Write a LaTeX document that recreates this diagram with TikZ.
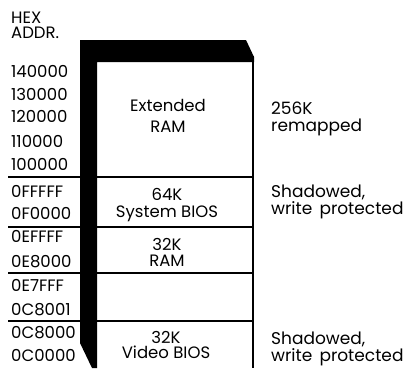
\documentclass[tikz,border=0pt]{standalone}
\usepackage{fontspec}
\setmainfont{Poppins}
\newcommand{\widespace}{\spaceskip=0.42em\relax}
\begin{document}
\begin{tikzpicture}[x=1pt,y=-1pt,
  addr/.style={anchor=base west,inner sep=0pt,font=\fontsize{16.5}{16}\selectfont},
  inlab/.style={anchor=base,inner sep=0pt,font=\fontsize{16.5}{16}\selectfont},
  rlab/.style={anchor=base west,align=left,inner sep=0pt,font=\fontsize{17}{14.5}\selectfont\widespace},
  sep/.style={line width=1.4pt}]
\useasboundingbox (0,0) rectangle (409,368);
% frame
\fill[black] (80,40) -- (246,40) -- (254,57) -- (254,62) -- (97,62) -- (97,368) -- (92,368) -- (80,343) -- cycle;
\draw[line width=2pt] (253,56) -- (253,368);
% separators
\foreach \y in {177,227,273,321} \draw[sep] (8,\y) -- (253,\y);
% header
\node[addr] (hdr1) at (11,23) {HEX};
\node[addr] (hdr2) at (11,38) {ADDR.};
% addresses
\node[addr] (a1) at (11,77) {140000};
\node[addr] (a2) at (11,100) {130000};
\node[addr] (a3) at (11,122) {120000};
\node[addr] (a4) at (11,147) {110000};
\node[addr] (a5) at (11,170) {100000};
\node[addr] (a6) at (11,197) {0FFFFF};
\node[addr] (a7) at (11,219) {0F0000};
\node[addr] (a8) at (11,242) {0EFFFF};
\node[addr] (a9) at (11,267) {0E8000};
\node[addr] (a10) at (11,291) {0E7FFF};
\node[addr] (a11) at (11,315) {0C8001};
\node[addr] (a12) at (11,338) {0C8000};
\node[addr] (a13) at (11,361) {0C0000};
% inside labels
\node[inlab] (ext1) at (168,111) {Extended};
\node[inlab] (ext2) at (168,132) {RAM};
\node[inlab] (sb1) at (167,200) {64K};
\node[inlab] (sb2) at (167,217) {System BIOS};
\node[inlab] (ram1) at (167,250) {32K};
\node[inlab] (ram2) at (167,266) {RAM};
\node[inlab] (vb1) at (166,343) {32K};
\node[inlab] (vb2) at (166,358) {Video BIOS};
% right labels
\node[rlab,font=\fontsize{17}{16.5}\selectfont] (r1) at (271,131) {256K\\remapped};
\node[rlab] (r2) at (271,214) {Shadowed,\\write protected};
\node[rlab] (r3) at (271,361) {Shadowed,\\write protected};
\end{tikzpicture}
\end{document}
